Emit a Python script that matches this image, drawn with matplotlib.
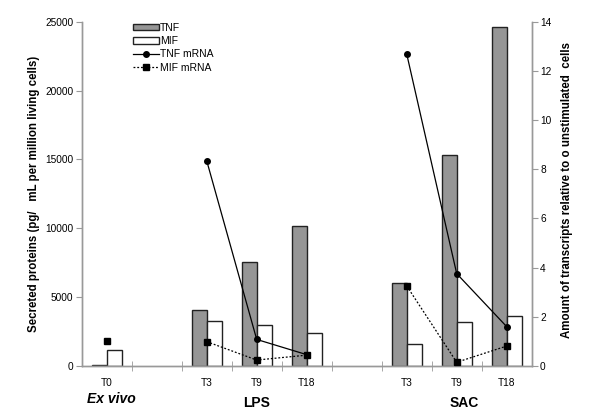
import numpy as np
import matplotlib
matplotlib.use("Agg")
import matplotlib.pyplot as plt
from matplotlib.patches import Patch
from matplotlib.lines import Line2D
import matplotlib.transforms as mtransforms

plt.rcParams['font.family'] = ['Liberation Sans', 'DejaVu Sans']

# ---- data ----
categories = ['T0', '', 'T3', 'T9', 'T18', '', 'T3', 'T9', 'T18']
tnf_protein = [50, np.nan, 4050, 7520, 10180, np.nan, 5990, 15320, 24650]
mif_protein = [1120, np.nan, 3270, 2940, 2400, np.nan, 1560, 3160, 3640]
tnf_mrna = [np.nan, np.nan, 8.35, 1.07, 0.45, np.nan, 12.70, 3.75, 1.59]
mif_mrna = [1.02, np.nan, 0.98, 0.23, 0.43, np.nan, 3.25, 0.14, 0.80]
groups = ['Ex vivo', 'LPS', 'SAC']
group_pos = [0.1, 3.0, 7.15]
group_style = ['italic', 'normal', 'normal']

fig = plt.figure(figsize=(6.0, 4.16), dpi=100)
ax = fig.add_axes([81.7 / 600, 50.3 / 416, 450 / 600, 343.7 / 416])
ax2 = ax.twinx()

x = np.arange(len(categories))
w = 0.3
tnf_arr = np.array(tnf_protein, dtype=float)
mif_arr = np.array(mif_protein, dtype=float)
ok_t = ~np.isnan(tnf_arr)
ok_m = ~np.isnan(mif_arr)
edge = '#222222'
ax.bar(x[ok_t] - w / 2, tnf_arr[ok_t], width=w, color='#969696', edgecolor=edge, linewidth=1.0, zorder=2)
ax.bar(x[ok_m] + w / 2, mif_arr[ok_m], width=w, color='white', edgecolor=edge, linewidth=1.0, zorder=2)

ax2.plot(x, tnf_mrna, color='black', linestyle='-', linewidth=0.9, marker='o', markersize=4, zorder=3)
ax2.plot(x, mif_mrna, color='black', linestyle=(0, (1.5, 1.5)), linewidth=0.9, marker='s', markersize=5, zorder=4)

ax.set_xlim(-0.5, len(categories) - 0.5)
ax.set_ylim(0, 25000)
ax.set_yticks(np.arange(0, 25001, 5000))
ax2.set_ylim(0, 14)
ax2.set_yticks(np.arange(0, 15, 2))

ax.set_xticks(x)
ax.set_xticklabels(categories, fontsize=7.3)
ax.set_xticks(np.arange(0.5, len(categories) - 1, 1), minor=True)
ax.tick_params(axis='x', which='major', length=0, pad=9)
ax.tick_params(axis='x', which='minor', direction='inout', length=7, color='#999999')
ax.tick_params(axis='y', labelsize=7.3, length=4, color='#999999', pad=2)
ax2.tick_params(axis='y', labelsize=7.3, length=4, color='#999999', pad=2)

for a in (ax, ax2):
    a.spines['top'].set_visible(False)
    for s in ('left', 'right', 'bottom'):
        a.spines[s].set_color('#999999')
        a.spines[s].set_linewidth(1.0)

fig.text(34 / 600, 1 - 194 / 416, 'Secreted proteins (pg/   mL per million living cells)',
         rotation=90, ha='center', va='center', fontsize=8.3, fontweight='bold')
fig.text(567 / 600, 1 - 190 / 416, 'Amount of transcripts relative to o unstimulated  cells',
         rotation=90, ha='center', va='center', fontsize=8.3, fontweight='bold')

trans = mtransforms.blended_transform_factory(ax.transData, fig.transFigure)
group_y = [1 - 399 / 416, 1 - 403 / 416, 1 - 403 / 416]
for g, gx, gy, st in zip(groups, group_pos, group_y, group_style):
    ax.text(gx, gy, g, transform=trans, ha='center', va='center', fontsize=10,
            fontweight='bold', fontstyle=st)

handles = [
    Patch(facecolor='#969696', edgecolor=edge, label='TNF'),
    Patch(facecolor='white', edgecolor=edge, label='MIF'),
    Line2D([], [], color='black', linestyle='-', linewidth=0.9, marker='o', markersize=4, label='TNF mRNA'),
    Line2D([], [], color='black', linestyle=(0, (1.5, 1.5)), linewidth=0.9, marker='s', markersize=5, label='MIF mRNA'),
]
leg = ax2.legend(handles=handles, loc='upper left', bbox_to_anchor=(0.105, 1.01), frameon=False,
                 fontsize=7.5, handlelength=2.5, handleheight=0.55, labelspacing=0.32,
                 handletextpad=0.1, borderaxespad=0)

fig.savefig('out.png', dpi=100)
